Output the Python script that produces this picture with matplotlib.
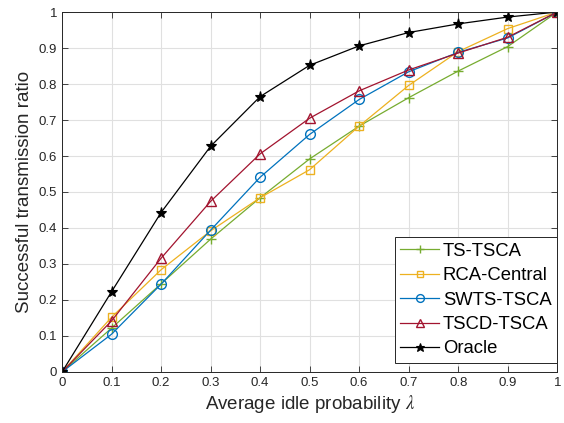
import numpy as np
import matplotlib
matplotlib.use('Agg')
import matplotlib.pyplot as plt

plt.rcParams['font.family'] = ['Liberation Sans', 'DejaVu Sans']
plt.rcParams['mathtext.fontset'] = 'stix'

# data
lam = [0, 0.1, 0.2, 0.3, 0.4, 0.5, 0.6, 0.7, 0.8, 0.9, 1.0]
ts_tsca = [0, 0.122, 0.245, 0.369, 0.484, 0.592, 0.683, 0.762, 0.836, 0.904, 1.0]
rca_central = [0, 0.152, 0.284, 0.392, 0.484, 0.562, 0.683, 0.796, 0.890, 0.954, 1.0]
swts_tsca = [0, 0.105, 0.244, 0.394, 0.541, 0.660, 0.757, 0.834, 0.888, 0.928, 1.0]
tscd_tsca = [0, 0.142, 0.316, 0.474, 0.606, 0.705, 0.781, 0.839, 0.886, 0.930, 1.0]
oracle = [0, 0.223, 0.443, 0.627, 0.765, 0.852, 0.906, 0.943, 0.967, 0.986, 1.0]

ticks = [0, 0.1, 0.2, 0.3, 0.4, 0.5, 0.6, 0.7, 0.8, 0.9, 1]
tick_labels = ['0', '0.1', '0.2', '0.3', '0.4', '0.5', '0.6', '0.7', '0.8', '0.9', '1']

fig = plt.figure(figsize=(5.64, 4.23), dpi=100)
ax = fig.add_axes([0.110, 0.1206, 0.878, 0.851])

lw = 0.9
ax.plot(lam, ts_tsca, color='#77AC30', lw=lw, marker='+', ms=7, mew=1.0, label='TS-TSCA')
ax.plot(lam, rca_central, color='#EDB120', lw=lw, marker='s', ms=6, mfc='none', mew=1.0, label='RCA-Central')
ax.plot(lam, swts_tsca, color='#0072BD', lw=lw, marker='o', ms=7, mfc='none', mew=1.0, label='SWTS-TSCA')
ax.plot(lam, tscd_tsca, color='#A2142F', lw=lw, marker='^', ms=7, mfc='none', mew=1.0, label='TSCD-TSCA')
ax.plot(lam, oracle, color='k', lw=lw, marker='*', ms=8, mew=0.8, label='Oracle')

ax.set_xlim(0, 1)
ax.set_ylim(0, 1)
ax.set_xticks(ticks)
ax.set_xticklabels(tick_labels)
ax.set_yticks(ticks)
ax.set_yticklabels(tick_labels)
ax.grid(True, color='#e0e0e0', lw=0.8)
ax.set_axisbelow(True)
ax.tick_params(axis='both', direction='in', top=True, right=True, labelsize=9.5,
               colors='#262626', length=4, width=0.6)
for s in ax.spines.values():
    s.set_color('#262626')
    s.set_linewidth(0.7)

ax.set_xlabel(r'Average idle probability $\lambda$', fontsize=13.5, color='#262626', labelpad=3)
ax.set_ylabel('Successful transmission ratio', fontsize=13.5, color='#262626', labelpad=4)

leg = ax.legend(loc='lower right', bbox_to_anchor=(1.0, 0.025), fontsize=13.3, fancybox=False,
                framealpha=1, edgecolor='#262626', borderaxespad=0, handlelength=2.1,
                handletextpad=0.2, labelspacing=0.4, borderpad=0.3, markerscale=0.8)
leg.get_frame().set_linewidth(0.7)

plt.savefig('out.png', dpi=100)
